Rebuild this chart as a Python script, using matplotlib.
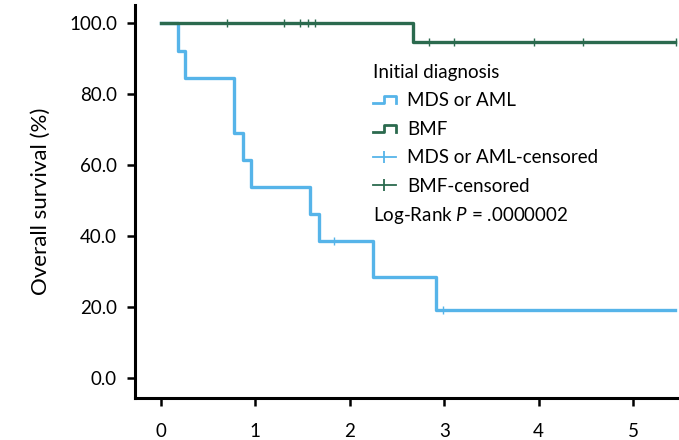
import matplotlib.pyplot as plt
from matplotlib.lines import Line2D
from matplotlib.legend_handler import HandlerBase


#################### Data

# MDS or AML: event times (years) and survival (%) after each step
mds_times = [0, 0.177, 0.254, 0.777, 0.865, 0.953, 1.58, 1.67, 2.25, 2.91, 5.44]
mds_surv = [100.0, 92.3, 84.6, 69.2, 61.5, 53.8, 46.2, 38.5, 28.6, 19.2, 19.2]
mds_cens_t = [1.83, 2.99]
mds_cens_s = [38.5, 19.2]

# BMF
bmf_times = [0, 2.666, 5.44]
bmf_surv = [100.0, 94.7, 94.7]
bmf_cens_t = [0.70, 1.30, 1.476, 1.554, 1.63, 2.84, 3.10, 3.955, 4.47, 5.46]
bmf_cens_s = [100.0, 100.0, 100.0, 100.0, 100.0, 94.7, 94.7, 94.7, 94.7, 94.7]

x_ticks = [0, 1, 2, 3, 4, 5]
y_ticks = [0, 20, 40, 60, 80, 100]

legend_title = 'Initial diagnosis'
legend_labels = ['MDS or AML', 'BMF', 'MDS or AML-censored', 'BMF-censored']


#################### Plot parameters

plt.rcParams['font.family'] = ['Lato', 'DejaVu Sans']
plt.rcParams['mathtext.fontset'] = 'custom'
plt.rcParams['mathtext.rm'] = 'Lato'
plt.rcParams['mathtext.it'] = 'Lato:italic'

tamano = 13.5
color_mds = '#56b4e9'
color_bmf = '#2b6a4e'

W, H = 679, 440
fig = plt.figure(figsize=(W / 100, H / 100), dpi=100)
ax = fig.add_axes((135 / W, (H - 398) / H, (W - 135) / W, (398 - 5) / H))


class StepHandler(HandlerBase):
    # little "_|-|" step icon used in the legend
    def create_artists(self, legend, orig_handle, xdescent, ydescent,
                       width, height, fontsize, trans):
        x0 = -xdescent
        ym = -ydescent + height / 2
        xs = [x0, x0 + 0.5 * width, x0 + 0.5 * width, x0 + width, x0 + width]
        ys = [ym - 2.5, ym - 2.5, ym + 2.5, ym + 2.5, ym - 2.5]
        ln = Line2D(xs, ys, color=orig_handle.get_color(), lw=orig_handle.get_linewidth())
        ln.set_transform(trans)
        return [ln]


#################### Curves

ax.step(mds_times, mds_surv, where='post', color=color_mds, lw=2.4, zorder=3)
ax.step(bmf_times, bmf_surv, where='post', color=color_bmf, lw=2.4, zorder=4)
ax.plot(mds_cens_t, mds_cens_s, ls='none', marker='|', ms=6, mew=1.0, color=color_mds, zorder=5)
ax.plot(bmf_cens_t, bmf_cens_s, ls='none', marker='|', ms=6, mew=1.0, color=color_bmf, zorder=5)

ax.set_xlim(-0.275, 5.487)
ax.set_ylim(-5.64, 105.2)
ax.set_xticks(x_ticks)
ax.set_yticks(y_ticks)
ax.set_yticklabels([f'{v:.1f}' for v in y_ticks])

for s in ['top', 'right']:
    ax.spines[s].set_visible(False)
for s in ['left', 'bottom']:
    ax.spines[s].set_linewidth(2.2)
ax.tick_params(axis='both', width=1.8, length=6, labelsize=tamano)
ax.tick_params(axis='x', pad=12)
ax.tick_params(axis='y', pad=7)

ax.set_ylabel('Overall survival (%)', fontsize=16, labelpad=13)


#################### Legend

h_mds = Line2D([], [], color=color_mds, lw=2.0)
h_bmf = Line2D([], [], color=color_bmf, lw=2.0)
h_mds_c = Line2D([], [], color=color_mds, lw=1.3, marker='|', ms=9, mew=1.3)
h_bmf_c = Line2D([], [], color=color_bmf, lw=1.3, marker='|', ms=9, mew=1.3)

leg = ax.legend([h_mds, h_bmf, h_mds_c, h_bmf_c], legend_labels,
                title=legend_title, title_fontsize=tamano, fontsize=tamano,
                alignment='left', frameon=False,
                handler_map={h_mds: StepHandler(), h_bmf: StepHandler()},
                handlelength=1.2, handletextpad=0.6, labelspacing=0.61,
                borderpad=0, borderaxespad=0,
                loc='upper left', bbox_to_anchor=(373 / W, (H - 64) / H),
                bbox_transform=fig.transFigure)

fig.text(373 / W, (H - 215) / H, 'Log-Rank $P$ = .0000002', fontsize=tamano,
         va='center', ha='left')

plt.savefig('out.png', dpi=100)
